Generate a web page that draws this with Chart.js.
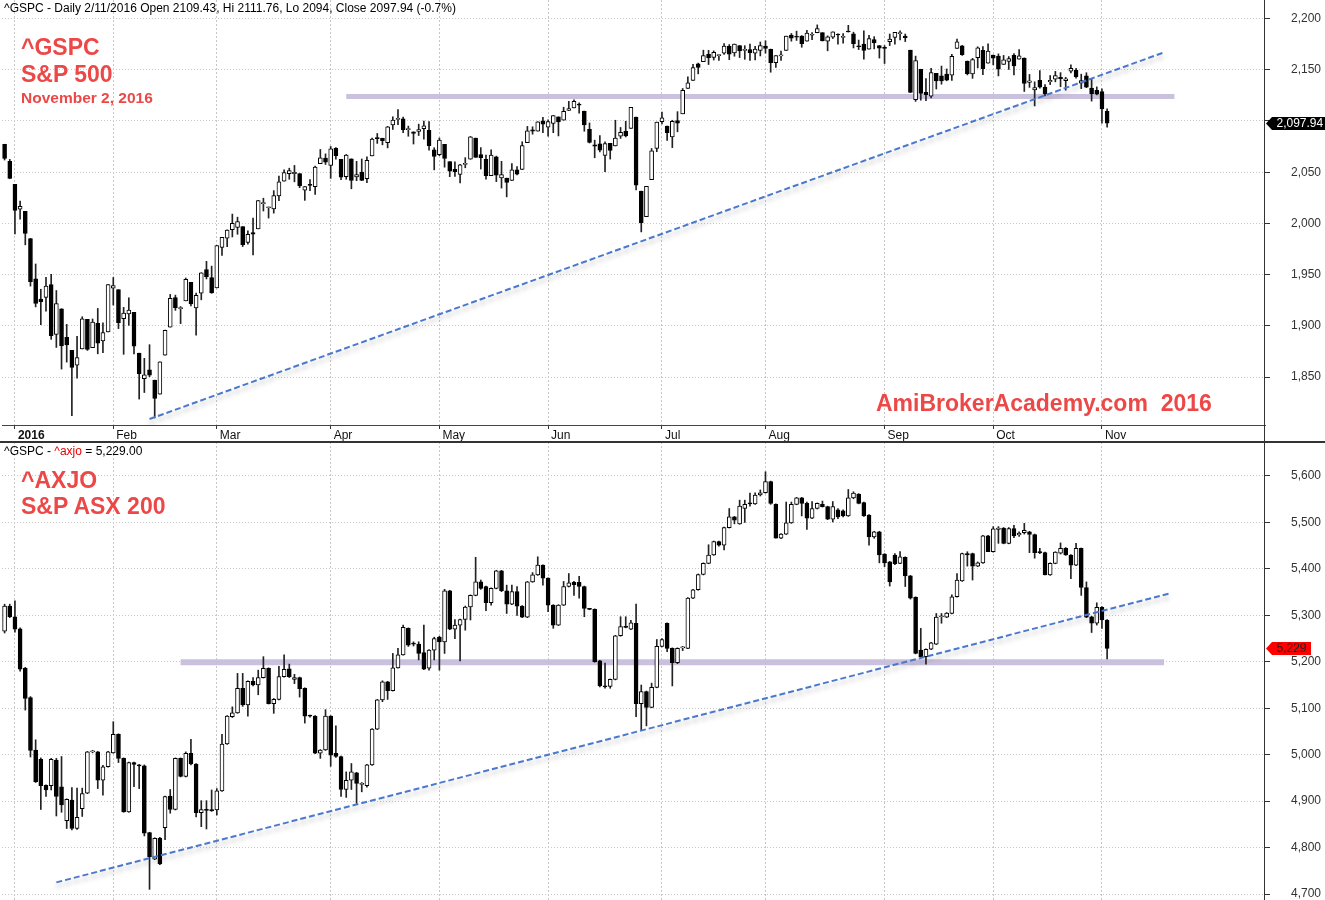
<!DOCTYPE html>
<html>
<head>
<meta charset="utf-8">
<script src="https://cdn.jsdelivr.net/npm/chart.js@4.4.1/dist/chart.umd.min.js"></script>
<style>
  body { margin: 0; background: #fff; font-family: "Liberation Sans", Arial, sans-serif; }
  #wrap { position: relative; width: 1325px; height: 900px; overflow: hidden; }
  canvas { position: absolute; left: 0; }
  .t { position: absolute; white-space: pre; line-height: 1; }
  .red { color: #ec4848; font-weight: bold; }
  .line { position: absolute; background: #333; }
</style>
</head>
<body>
<div id="wrap">
  <canvas id="top" width="1325" height="442" style="top:0"></canvas>
  <canvas id="bot" width="1325" height="458" style="top:442px"></canvas>
  <div class="line" style="left:0;top:441px;width:1325px;height:2px"></div>
  <div class="line" style="left:1264px;top:0;width:1px;height:900px"></div>

  <div class="t" style="left:4px;top:2px;font-size:12px;color:#000">^GSPC - Daily 2/11/2016 Open 2109.43, Hi 2111.76, Lo 2094, Close 2097.94 (-0.7%)</div>
  <div class="t red" style="left:21px;top:36px;font-size:23px">^GSPC</div>
  <div class="t red" style="left:21px;top:63px;font-size:23px">S&amp;P 500</div>
  <div class="t red" style="left:21px;top:90px;font-size:15.5px">November 2, 2016</div>
  <div class="t red" style="left:876px;top:392px;font-size:23px">AmiBrokerAcademy.com  2016</div>

  <div class="t" style="left:4px;top:445px;font-size:12px;color:#000">^GSPC - <span style="color:#e00">^axjo</span> = 5,229.00</div>
  <div class="t red" style="left:21px;top:469px;font-size:23px">^AXJO</div>
  <div class="t red" style="left:21px;top:495px;font-size:23px">S&amp;P ASX 200</div>
</div>
<script>
// slots on the date axis (trading days from 30 Dec 2015 plus empty room on the right)
const N = 244;
const monthIdx = [2, 21, 41, 63, 84, 105, 127, 147, 170, 191, 212];
const monthLbl = ['2016', 'Feb', 'Mar', 'Apr', 'May', 'Jun', 'Jul', 'Aug', 'Sep', 'Oct', 'Nov'];

// ^GSPC daily [open, high, low, close]
const spx = [
[2077.3,2077.3,2061.9,2063.4],[2060.6,2062.5,2043.6,2043.9],[2038.2,2038.2,1989.7,2012.7],[2013.8,2021.9,2004.2,2016.7],
[2011.7,2011.7,1979.1,1990.3],[1985.3,1985.3,1938.8,1943.1],[1946.0,1960.4,1918.5,1922.0],[1926.1,1935.7,1901.1,1923.7],
[1927.8,1947.4,1914.4,1938.7],[1940.3,1950.3,1886.8,1890.3],[1891.7,1934.5,1878.9,1921.8],[1916.7,1916.7,1857.8,1880.3],
[1888.7,1901.4,1864.6,1881.3],[1876.2,1876.2,1812.3,1859.3],[1861.5,1889.8,1849.0,1869.0],[1877.4,1908.9,1877.4,1906.9],
[1906.3,1906.3,1876.0,1877.1],[1878.8,1906.7,1878.8,1903.6],[1902.5,1917.0,1872.7,1883.0],[1885.2,1903.0,1873.7,1893.4],
[1894.0,1940.3,1894.0,1940.2],[1936.9,1947.2,1920.3,1939.4],[1935.3,1935.3,1897.3,1903.0],[1907.1,1918.0,1872.2,1912.5],
[1911.7,1927.4,1900.5,1915.5],[1913.1,1913.1,1872.7,1880.1],[1873.3,1873.3,1828.5,1853.4],[1848.5,1868.3,1834.9,1852.2],
[1857.1,1881.6,1850.3,1851.9],[1847.0,1847.0,1810.1,1829.1],[1833.4,1864.8,1833.4,1864.8],[1871.4,1895.8,1871.4,1895.6],
[1898.8,1930.7,1898.8,1926.8],[1927.6,1930.0,1915.1,1917.8],[1916.7,1918.8,1902.2,1917.8],[1924.4,1946.7,1924.4,1945.5],
[1942.4,1942.4,1919.4,1921.3],[1917.6,1932.1,1891.0,1929.8],[1931.9,1951.8,1925.4,1951.7],[1955.0,1963.0,1945.8,1948.1],
[1947.1,1958.3,1931.8,1932.2],[1937.1,1978.4,1937.1,1978.4],[1976.6,1986.5,1968.8,1986.5],[1985.6,1993.7,1977.4,1993.4],
[1994.0,2009.1,1986.8,2000.0],[1996.1,2006.1,1989.4,2001.8],[1996.9,1996.9,1977.4,1979.3],[1981.4,1992.7,1979.8,1989.3],
[1991.0,2005.1,1969.2,1989.6],[1994.7,2022.4,1994.7,2022.2],[2019.3,2024.6,2012.1,2019.6],[2015.3,2015.9,2005.2,2015.9],
[2014.2,2032.0,2010.0,2027.2],[2026.9,2046.2,2022.2,2040.6],[2041.2,2052.4,2041.2,2049.6],[2048.6,2053.9,2043.1,2051.6],
[2048.6,2056.6,2040.6,2049.8],[2048.6,2048.6,2034.9,2036.7],[2032.5,2036.0,2022.5,2035.9],[2037.9,2042.7,2032.0,2037.1],
[2035.8,2055.9,2028.3,2055.0],[2058.3,2072.2,2058.3,2064.0],[2063.8,2067.9,2057.5,2059.7],[2056.6,2075.1,2044.0,2072.8],
[2073.2,2074.0,2062.6,2066.1],[2062.5,2062.5,2042.6,2045.2],[2045.6,2067.3,2043.1,2066.7],[2063.0,2063.0,2033.8,2041.9],
[2045.5,2060.6,2041.7,2047.6],[2050.2,2062.9,2041.9,2042.0],[2043.7,2065.1,2039.7,2061.7],[2065.9,2083.2,2065.9,2082.4],
[2082.9,2087.8,2078.1,2082.8],[2083.1,2083.2,2076.7,2080.7],[2078.8,2094.7,2073.7,2094.3],[2096.1,2104.1,2091.7,2100.8],
[2101.5,2111.1,2096.3,2102.4],[2102.1,2103.8,2088.5,2091.5],[2091.5,2095.0,2085.1,2091.6],[2089.4,2089.4,2077.5,2087.8],
[2089.8,2096.9,2085.8,2091.7],[2092.6,2099.9,2082.3,2095.2],[2090.9,2099.3,2071.6,2075.8],[2071.8,2073.9,2052.3,2065.3],
[2067.2,2083.4,2066.1,2081.4],[2077.2,2077.2,2054.9,2063.4],[2060.3,2060.3,2045.6,2051.1],[2052.9,2060.2,2045.8,2050.6],
[2047.8,2057.7,2039.5,2057.1],[2057.6,2064.2,2054.3,2058.7],[2062.6,2084.9,2062.6,2084.4],[2083.3,2083.3,2064.5,2064.5],
[2067.2,2074.0,2053.1,2064.1],[2062.5,2066.8,2043.1,2046.6],[2046.5,2071.9,2046.5,2066.7],[2065.0,2065.7,2040.8,2047.2],
[2044.4,2060.6,2034.5,2047.6],[2044.2,2044.2,2025.9,2040.0],[2041.9,2058.4,2041.9,2052.3],[2052.2,2055.6,2047.3,2048.0],
[2052.6,2079.7,2052.6,2076.1],[2078.9,2094.7,2078.9,2090.5],[2091.4,2094.3,2087.1,2090.1],[2090.1,2099.3,2090.1,2099.1],
[2100.1,2103.5,2088.7,2097.0],[2093.9,2101.0,2085.1,2099.3],[2097.7,2105.3,2088.6,2105.3],[2104.1,2104.1,2085.4,2099.1],
[2100.8,2113.4,2100.8,2109.4],[2110.2,2119.2,2110.2,2112.1],[2112.7,2120.6,2112.7,2119.1],[2115.7,2117.6,2107.7,2115.5],
[2109.6,2109.6,2090.0,2096.1],[2091.8,2098.1,2078.5,2079.1],[2076.7,2081.3,2064.1,2075.3],[2077.6,2085.7,2069.8,2071.5],
[2066.4,2079.6,2050.4,2078.0],[2078.2,2078.2,2062.8,2071.2],[2075.6,2100.7,2075.6,2083.3],[2085.2,2093.7,2083.0,2088.9],
[2089.8,2099.7,2084.4,2085.5],[2092.8,2113.3,2092.8,2113.3],[2103.8,2103.8,2032.6,2037.4],[2031.5,2031.5,1991.7,2000.5],
[2006.7,2036.1,2006.7,2036.1],[2042.7,2073.1,2042.7,2070.8],[2073.2,2098.9,2070.0,2098.9],[2099.3,2108.7,2097.1,2103.0],
[2095.1,2095.1,2080.9,2088.6],[2084.4,2100.7,2074.0,2099.7],[2100.4,2109.1,2089.4,2097.9],[2107.0,2131.7,2107.0,2129.9],
[2131.7,2143.2,2131.7,2137.2],[2139.5,2155.4,2139.5,2152.1],[2155.8,2156.5,2146.0,2152.4],[2157.9,2169.1,2157.9,2163.8],
[2165.1,2169.0,2155.1,2161.7],[2162.0,2168.4,2159.5,2166.9],[2163.8,2164.6,2159.0,2163.8],[2166.1,2175.6,2164.9,2173.0],
[2172.9,2174.6,2159.8,2165.2],[2166.5,2175.1,2163.2,2175.0],[2173.7,2173.7,2161.9,2168.5],[2169.0,2173.5,2160.2,2169.2],
[2169.8,2175.0,2159.1,2166.6],[2166.1,2172.9,2159.7,2170.1],[2168.8,2177.1,2163.5,2173.6],[2173.1,2178.3,2166.2,2170.8],
[2169.9,2170.2,2147.6,2157.0],[2156.8,2163.8,2152.2,2163.8],[2163.5,2168.2,2159.1,2164.3],[2168.8,2182.9,2168.8,2182.9],
[2183.8,2185.4,2177.9,2180.9],[2182.2,2187.7,2178.6,2181.7],[2182.8,2183.4,2172.0,2175.5],[2178.0,2188.5,2178.0,2185.8],
[2183.7,2186.3,2179.4,2184.1],[2186.1,2193.8,2186.1,2190.2],[2186.2,2186.2,2178.1,2178.2],[2177.8,2183.1,2168.5,2182.2],
[2181.9,2187.0,2180.5,2187.0],[2184.2,2185.0,2175.1,2183.9],[2181.6,2185.2,2176.0,2182.6],[2187.8,2193.4,2186.8,2186.9],
[2185.1,2186.7,2171.3,2175.4],[2173.3,2179.0,2169.7,2172.5],[2175.1,2187.9,2160.4,2169.0],[2170.2,2183.5,2170.2,2180.4],
[2179.5,2182.3,2170.4,2176.1],[2173.6,2173.6,2161.4,2171.0],[2171.3,2173.6,2156.1,2170.9],[2177.5,2184.9,2173.6,2180.0],
[2181.6,2186.6,2175.1,2186.5],[2185.2,2187.9,2179.1,2186.2],[2182.8,2184.9,2177.5,2181.3],[2169.1,2169.1,2127.8,2127.8],
[2120.9,2163.3,2119.1,2159.0],[2150.5,2150.5,2120.3,2127.0],[2127.9,2141.3,2119.9,2125.8],[2124.1,2151.3,2122.4,2147.3],
[2146.5,2146.5,2131.2,2139.2],[2144.0,2153.6,2135.9,2139.1],[2145.9,2150.8,2139.2,2139.8],[2144.6,2165.1,2139.6,2163.1],
[2170.9,2180.0,2170.9,2177.2],[2173.3,2173.8,2164.0,2164.7],[2158.5,2158.5,2145.0,2146.1],[2146.0,2161.1,2141.6,2159.9],
[2161.9,2172.4,2151.8,2171.4],[2168.9,2172.7,2145.2,2151.1],[2156.5,2175.3,2156.5,2168.3],[2164.3,2164.4,2154.8,2161.2],
[2163.4,2165.5,2144.0,2150.5],[2155.2,2164.0,2155.2,2159.7],[2158.2,2162.9,2150.3,2160.8],[2164.2,2165.9,2144.9,2153.7],
[2160.4,2169.6,2160.4,2163.7],[2161.4,2161.6,2128.8,2136.7],[2137.7,2145.4,2132.8,2139.2],[2130.3,2138.2,2114.7,2132.6],
[2139.7,2149.2,2132.0,2133.0],[2133.0,2135.6,2124.4,2126.5],[2138.3,2144.4,2135.5,2139.6],[2140.8,2148.4,2138.2,2144.3],
[2142.5,2147.2,2133.4,2141.3],[2139.4,2142.6,2130.1,2141.2],[2148.5,2154.8,2146.9,2151.3],[2149.7,2151.4,2141.9,2143.2],
[2137.0,2145.7,2131.6,2139.4],[2144.1,2147.1,2132.5,2133.0],[2132.2,2140.7,2119.4,2126.4],[2129.8,2133.3,2125.5,2126.2],
[2128.7,2131.5,2097.9,2111.7],[2109.4,2111.8,2094.0,2097.9]
];

// ^AXJO on the same dates [open, high, low, close]
const axjo = [
[5266,5324,5262,5320],[5320,5324,5295,5297],[5297,5331,5264,5270],[5271,5273,5180,5184],
[5186,5188,5096,5121],[5123,5125,4995,5009],[5010,5032,4940,4942],[4990,4993,4882,4933],
[4934,4935,4910,4924],[4933,4992,4924,4990],[4988,4992,4868,4910],[4931,4996,4876,4892],
[4858,4905,4841,4904],[4902,4929,4838,4841],[4841,4928,4839,4865],[4884,4928,4867,4916],
[4917,5007,4916,5006],[5006,5009,5004,5008],[5006,5007,4927,4945],[4945,4977,4913,4974],
[4974,5007,4973,5006],[5004,5071,5003,5044],[5044,5045,4983,4992],[4992,4993,4876,4877],
[4877,4984,4876,4983],[4983,4984,4931,4979],[4977,4979,4927,4976],[4976,4978,4825,4831],
[4832,4833,4710,4780],[4775,4821,4774,4820],[4820,4822,4763,4765],[4843,4911,4817,4910],
[4911,4925,4874,4882],[4882,4993,4881,4992],[4992,4993,4952,4953],[4953,5006,4952,5003],
[5003,5033,4978,4980],[4980,4981,4866,4875],[4875,4901,4845,4882],[4881,4901,4840,4880],
[4882,4924,4878,4879],[4881,4927,4870,4922],[4922,5044,4921,5023],[5023,5084,5022,5083],
[5082,5103,5080,5090],[5090,5175,5089,5143],[5143,5175,5104,5107],[5107,5159,5083,5158],
[5158,5166,5148,5150],[5150,5182,5129,5166],[5166,5211,5165,5186],[5186,5187,5109,5110],
[5110,5121,5089,5119],[5119,5190,5118,5168],[5168,5215,5167,5184],[5185,5195,5166,5168],
[5162,5173,5153,5166],[5166,5167,5124,5142],[5143,5144,5068,5083],[5084,5085,5081,5083],
[5083,5084,5002,5003],[5003,5011,4992,5010],[5010,5097,5009,5083],[5083,5084,4975,4999],
[5003,5062,4994,4996],[4996,4997,4910,4925],[4925,4963,4908,4945],[4945,4981,4925,4963],
[4961,4962,4895,4938],[4936,4940,4920,4938],[4933,4979,4930,4978],[4978,5056,4977,5055],
[5055,5119,5054,5118],[5118,5159,5114,5157],[5157,5158,5119,5138],[5138,5218,5137,5187],
[5187,5229,5186,5215],[5215,5279,5214,5274],[5272,5273,5233,5236],[5239,5243,5234,5238],
[5238,5243,5204,5218],[5220,5279,5183,5184],[5186,5226,5182,5225],[5225,5253,5204,5250],
[5253,5255,5182,5243],[5243,5356,5218,5353],[5353,5354,5269,5270],[5270,5291,5250,5279],
[5279,5292,5202,5291],[5291,5320,5268,5318],[5318,5344,5290,5343],[5343,5425,5342,5372],
[5372,5376,5356,5358],[5362,5363,5310,5327],[5327,5359,5322,5358],[5358,5397,5357,5396],
[5396,5397,5351,5353],[5353,5365,5304,5324],[5324,5365,5323,5351],[5351,5362,5300,5320],
[5320,5321,5295,5296],[5296,5373,5295,5372],[5372,5392,5371,5387],[5387,5426,5386,5408],
[5408,5409,5365,5380],[5380,5381,5308,5322],[5322,5323,5272,5279],[5279,5323,5278,5322],
[5322,5373,5321,5362],[5362,5390,5361,5370],[5371,5373,5343,5366],[5371,5384,5337,5362],
[5362,5363,5297,5315],[5314,5315,5312,5313],[5313,5314,5199,5200],[5202,5203,5146,5148],
[5148,5197,5143,5146],[5147,5163,5143,5162],[5162,5257,5161,5256],[5256,5297,5255,5276],
[5276,5297,5273,5274],[5270,5289,5269,5284],[5283,5324,5082,5110],[5110,5150,5053,5136],
[5136,5137,5062,5102],[5102,5154,5101,5145],[5145,5248,5144,5233],[5233,5250,5232,5248],
[5283,5284,5222,5229],[5229,5230,5148,5198],[5198,5230,5196,5229],[5230,5233,5224,5231],
[5229,5338,5228,5337],[5337,5356,5336,5355],[5355,5389,5354,5388],[5388,5413,5387,5412],
[5412,5452,5411,5430],[5430,5460,5429,5459],[5459,5460,5449,5451],[5451,5490,5441,5489],
[5489,5530,5488,5512],[5512,5513,5497,5505],[5497,5548,5496,5535],[5530,5548,5500,5539],
[5541,5563,5535,5540],[5540,5564,5539,5559],[5559,5570,5557,5564],[5564,5609,5563,5588],
[5588,5589,5539,5541],[5539,5540,5466,5466],[5466,5476,5465,5475],[5475,5544,5474,5499],
[5499,5544,5498,5539],[5539,5554,5538,5553],[5553,5554,5514,5541],[5541,5544,5485,5509],
[5509,5545,5508,5530],[5530,5542,5529,5541],[5539,5546,5533,5534],[5534,5535,5506,5507],
[5507,5545,5501,5534],[5527,5530,5508,5512],[5525,5527,5512,5514],[5514,5571,5513,5553],
[5553,5566,5551,5563],[5561,5562,5540,5541],[5543,5544,5513,5514],[5516,5517,5451,5469],
[5469,5481,5466,5480],[5480,5481,5413,5430],[5432,5433,5405,5413],[5415,5416,5363,5372],
[5430,5433,5409,5411],[5412,5437,5411,5426],[5425,5426,5362,5385],[5385,5386,5335,5337],
[5339,5340,5217,5218],[5225,5272,5210,5211],[5211,5228,5195,5227],[5227,5242,5226,5241],
[5238,5304,5237,5296],[5297,5304,5283,5299],[5296,5306,5295,5305],[5304,5344,5303,5340],
[5340,5390,5339,5376],[5374,5434,5373,5433],[5433,5437,5406,5430],[5433,5434,5376,5406],
[5406,5415,5405,5413],[5413,5472,5412,5471],[5471,5472,5437,5437],[5437,5491,5436,5486],
[5485,5491,5455,5488],[5488,5489,5454,5455],[5455,5489,5454,5487],[5487,5494,5467,5471],
[5473,5480,5470,5477],[5478,5498,5475,5483],[5480,5481,5435,5474],[5474,5475,5423,5435],
[5436,5444,5433,5435],[5435,5436,5387,5387],[5387,5413,5386,5412],[5412,5437,5411,5436],
[5434,5456,5432,5444],[5444,5446,5429,5430],[5430,5431,5379,5408],[5408,5455,5407,5444],
[5444,5445,5343,5360],[5360,5372,5295,5296],[5297,5298,5263,5283],[5283,5327,5279,5317],
[5317,5319,5272,5290],[5290,5291,5206,5229]
];

// hand-drawn lines: [startSlot, startValue, endSlot, endValue]
const spxTrend = [28, 1809, 224, 2167];
const spxLevel = [66, 2124, 226, 2124];
const axjoTrend = [10, 4725, 225, 5347];
const axjoLevel = [34, 5199, 224, 5199];

const FONT = "'Liberation Sans', Arial, sans-serif";
Chart.defaults.font.family = FONT;

function seg(s) {
  const a = new Array(N).fill(null);
  a[s[0]] = s[1];
  a[s[2]] = s[3];
  return a;
}

const shadowPlugin = {
  id: 'lineShadow',
  beforeDatasetDraw(chart, args) {
    if (!chart.data.datasets[args.index].shadow) return;
    const ctx = chart.ctx;
    ctx.save();
    ctx.shadowColor = 'rgba(0,0,0,0.28)';
    ctx.shadowBlur = 5;
    ctx.shadowOffsetY = 4;
  },
  afterDatasetDraw(chart, args) {
    if (chart.data.datasets[args.index].shadow) chart.ctx.restore();
  }
};

const tagPlugin = {
  id: 'lastTag',
  afterDraw(chart, args, o) {
    if (!o.text) return;
    const ctx = chart.ctx;
    const y = Math.round(chart.scales.y.getPixelForValue(o.value)) + 0.5;
    const x0 = 1266, h = 13;
    ctx.save();
    ctx.fillStyle = o.bg;
    ctx.beginPath();
    ctx.moveTo(x0, y);
    ctx.lineTo(x0 + 6, y - h / 2);
    ctx.lineTo(x0 + o.w, y - h / 2);
    ctx.lineTo(x0 + o.w, y + h / 2);
    ctx.lineTo(x0 + 6, y + h / 2);
    ctx.closePath();
    ctx.fill();
    ctx.fillStyle = o.fg;
    ctx.font = '12px ' + FONT;
    ctx.textBaseline = 'middle';
    ctx.fillText(o.text, x0 + 10.5, y + 0.5);
    ctx.restore();
  }
};

function makeChart(id, ohlc, trend, level, levelWidth, yMin, yMax, step, showX, tag, hideTick) {
  const labels = Array.from({ length: N }, (_, i) => i);
  return new Chart(document.getElementById(id), {
    type: 'bar',
    data: {
      labels: labels,
      datasets: [
        {
          type: 'line', data: seg(trend), borderColor: '#4a78cf', borderWidth: 2,
          borderDash: [6, 3], pointRadius: 0, spanGaps: true, tension: 0, fill: false,
          order: -1, shadow: true
        },
        {
          data: ohlc.map(r => [r[0], r[3]]),
          backgroundColor: c => { const r = ohlc[c.dataIndex]; return r && r[3] >= r[0] ? '#ffffff' : '#000000'; },
          borderColor: '#000', borderWidth: 1, borderSkipped: false,
          barThickness: 4, minBarLength: 1, grouped: false, order: 0
        },
        {
          data: ohlc.map(r => [r[2], r[1]]),
          backgroundColor: '#222', borderWidth: 0,
          barThickness: 1, grouped: false, order: 1
        },
        {
          type: 'line', data: seg(level), borderColor: 'rgba(196,186,218,0.9)', borderWidth: levelWidth,
          borderCapStyle: 'butt', pointRadius: 0, spanGaps: true, tension: 0, fill: false, order: 2
        }
      ]
    },
    options: {
      responsive: false,
      animation: false,
      events: [],
      layout: { padding: { left: 2, right: 0, top: 0, bottom: 0 } },
      plugins: {
        legend: { display: false },
        tooltip: { enabled: false },
        lastTag: tag
      },
      scales: {
        x: {
          type: 'category',
          offset: true,
          grid: {
            offset: false,
            color: c => monthIdx.includes(c.index) ? '#c6c6c6' : 'rgba(0,0,0,0)',
            drawTicks: showX,
            tickLength: 4,
            tickColor: c => monthIdx.includes(c.index) ? '#333' : 'rgba(0,0,0,0)',
            tickBorderDash: []
          },
          border: { display: showX, color: '#444', dash: [2, 2] },
          ticks: {
            display: showX,
            autoSkip: false,
            maxRotation: 0,
            minRotation: 0,
            align: 'start',
            labelOffset: 3,
            padding: -1,
            color: '#111',
            font: c => ({ family: FONT, size: 12, weight: c.index === monthIdx[0] ? 'bold' : 'normal' }),
            callback: (v, i) => { const k = monthIdx.indexOf(i); return k >= 0 ? monthLbl[k] : ''; }
          },
          afterFit: s => { s.height = showX ? 17 : 0; s.paddingLeft = 0; s.paddingRight = 0; }
        },
        y: {
          position: 'right',
          min: yMin,
          max: yMax,
          ticks: {
            stepSize: step,
            includeBounds: false,
            padding: 21,
            color: '#333',
            font: { family: FONT, size: 12 },
            callback: v => v === hideTick ? '' : v.toLocaleString('en-US')
          },
          grid: { color: '#c8c8c8', drawTicks: true, tickLength: 5, tickColor: '#333', tickBorderDash: [] },
          border: { display: false, dash: [1, 2] },
          afterFit: s => { s.width = 60; s.paddingTop = 0; s.paddingBottom = 0; }
        }
      }
    },
    plugins: [shadowPlugin, tagPlugin]
  });
}

makeChart('top', spx, spxTrend, spxLevel, 5, 1803.2, 2218.1, 50, true,
  { text: '2,097.94', value: 2097.94, bg: '#000', fg: '#fff', w: 59 }, 2100);
makeChart('bot', axjo, axjoTrend, axjoLevel, 6, 4687.1, 5673.2, 100, false,
  { text: '5,229', value: 5229, bg: '#ff0000', fg: '#222', w: 45 }, null);
</script>
</body>
</html>
